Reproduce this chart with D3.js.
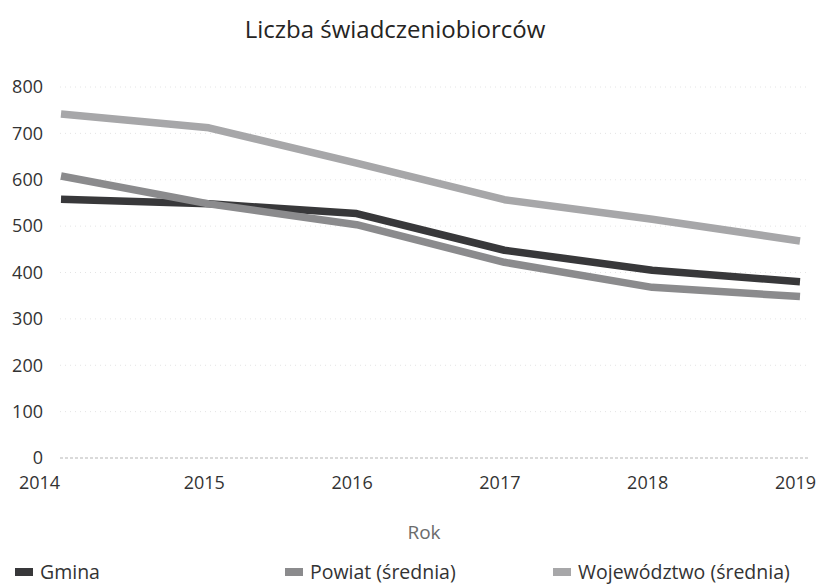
<!DOCTYPE html>
<html>
<head>
<meta charset="utf-8">
<script src="https://cdn.jsdelivr.net/npm/d3@7"></script>
<style>
  html, body { margin: 0; padding: 0; background: #fff; }
  svg { display: block; font-family: "Open Sans", "Noto Sans", sans-serif; }
</style>
</head>
<body>
<svg id="chart" width="822" height="585"></svg>
<script>
const years = ["2014", "2015", "2016", "2017", "2018", "2019"];
const yTicks = [0, 100, 200, 300, 400, 500, 600, 700, 800];
const seriesNames = ["Gmina", "Powiat (średnia)", "Województwo (średnia)"];
const gmina = [558, 548, 527, 448, 405, 380];
const powiat = [608, 548, 503, 422, 368, 348];
const wojewodztwo = [742, 712, 636, 557, 515, 468];
const colors = ["#38383a", "#8b8b8d", "#a7a7a9"];
const title = "Liczba świadczeniobiorców";
const xTitle = "Rok";

const svg = d3.select("#chart");
const x = d3.scalePoint().domain(years).range([61, 800]);
const y = d3.scaleLinear().domain([0, 800]).range([458, 87]);

// title
svg.append("text").attr("x", 395).attr("y", 38).attr("text-anchor", "middle")
  .attr("font-size", 24).attr("fill", "#252423").text(title);

// gridlines
const grid = svg.append("g");
grid.selectAll("line").data(yTicks).join("line")
  .attr("x1", 60).attr("x2", 808)
  .attr("y1", d => y(d)).attr("y2", d => y(d))
  .attr("stroke", d => d === 0 ? "#b5b5b5" : "#e4e4e4")
  .attr("stroke-width", 1)
  .attr("stroke-dasharray", d => d === 0 ? "3,2" : "1,4");

// y axis labels
const yAxis = d3.axisLeft(y).tickValues(yTicks).tickSize(0).tickPadding(0);
const gy = svg.append("g").attr("transform", "translate(43,0)").call(yAxis);
gy.select(".domain").remove();
gy.selectAll("text").attr("font-size", 18).attr("fill", "#333").attr("font-family", "'Open Sans', sans-serif");

// x axis labels
const xAxis = d3.axisBottom(x).tickSize(0).tickPadding(0);
const gx = svg.append("g").attr("transform", "translate(0,476)").call(xAxis);
gx.select(".domain").remove();
gx.selectAll("text").attr("font-size", 18).attr("fill", "#333").attr("font-family", "'Open Sans', sans-serif")
  .attr("dx", (d, i) => i === 0 ? -22 : -5);

svg.append("text").attr("x", 424).attr("y", 539).attr("text-anchor", "middle")
  .attr("font-size", 19).attr("fill", "#6b6b6b").text(xTitle);

// lines
const allSeries = [gmina, powiat, wojewodztwo];
const line = d3.line().x((d, i) => x(years[i])).y(d => y(d));
svg.append("g").selectAll("path").data(allSeries).join("path")
  .attr("d", d => line(d))
  .attr("fill", "none")
  .attr("stroke", (d, i) => colors[i])
  .attr("stroke-width", 7.5)
  .attr("stroke-linejoin", "round");

// legend
const legendX = [15, 285, 553];
const lg = svg.append("g").selectAll("g").data(seriesNames).join("g")
  .attr("transform", (d, i) => `translate(${legendX[i]},572)`);
lg.append("rect").attr("x", 0).attr("y", -4).attr("width", 18).attr("height", 8)
  .attr("fill", (d, i) => colors[i]);
lg.append("text").attr("x", 25).attr("y", 7).attr("font-size", 19.5).attr("fill", "#333").text(d => d);
</script>
</body>
</html>
